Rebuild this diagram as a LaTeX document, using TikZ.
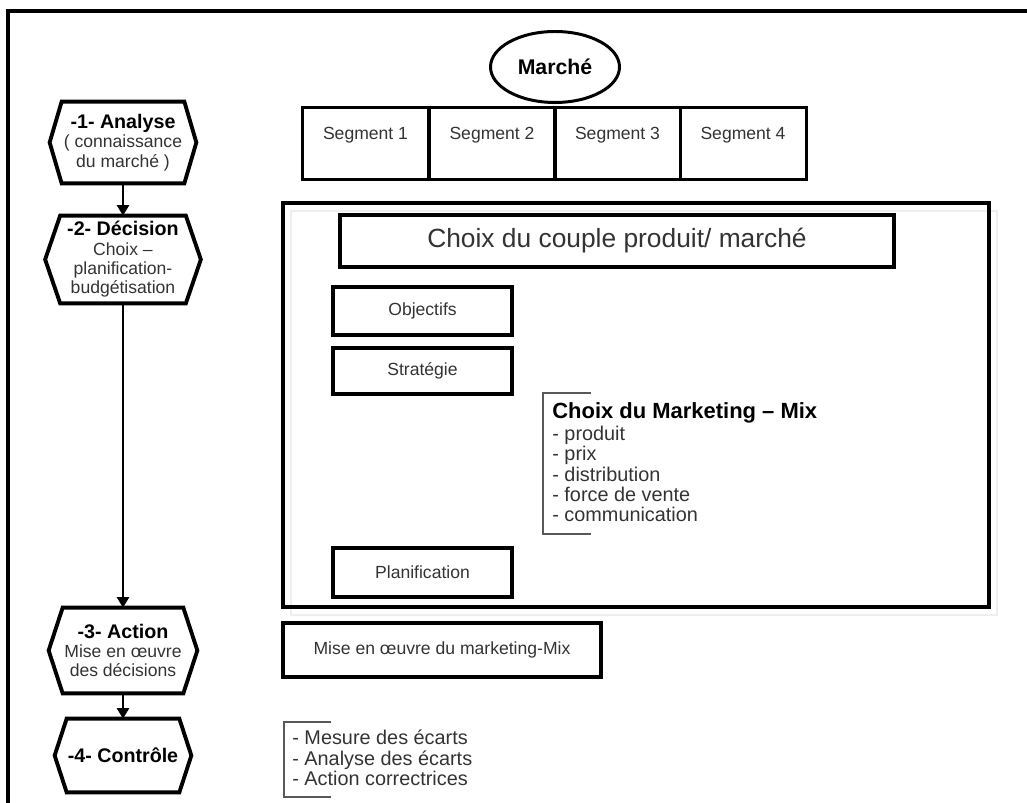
\documentclass[tikz,border=0pt]{standalone}
\usepackage{fontspec}
\setmainfont{Liberation Sans}
\usepackage{tikz}
\usetikzlibrary{shapes.geometric,arrows.meta}

\newcommand{\upx}{0.02cm}

\begin{document}
\begin{tikzpicture}[x=0.02cm,y=-0.02cm,
  txt/.style={text=black!80,font=\fontsize{10}{11}\selectfont},
  boite/.style={draw,line width=2.2pt,inner sep=0pt,txt},
  segbox/.style={draw,line width=1.7pt,minimum width=126*\upx,inner sep=0pt,
    text height=18.4pt,text depth=23pt,txt},
  hexbox/.style={minimum width=#1,align=center,inner sep=0pt,txt},
  hexline/.style={line width=2.2pt,line join=miter},
  fleche/.style={line width=1pt,-{Triangle[width=7pt,length=6pt]}},
  crochet/.style={black!65,line width=0.8pt},
  liste/.style={anchor=north west,inner sep=0pt,align=left,text=black!80,
    font=\fontsize{11.3}{11.6}\selectfont}]

\useasboundingbox (0,0) rectangle (1027,803);

% frame
\draw[line width=2.2pt] (8,803) -- (8,11) -- (1027,11);

% market and segments
\node[ellipse,draw,line width=1.7pt,minimum width=129*\upx,minimum height=71*\upx,
  font=\fontsize{12.1}{13}\selectfont\bfseries] (marche) at (555,67) {Marché};
\node[segbox] (seg1) at (365.5,143.5) {Segment 1};
\node[segbox] (seg2) at (492,143.5) {Segment 2};
\node[segbox] (seg3) at (617.5,143.5) {Segment 3};
\node[segbox] (seg4) at (743,143.5) {Segment 4};

% steps on the left
\node[hexbox=146*\upx,minimum height=81*\upx] (h1) at (123,142.5)
  {{\fontsize{11.2}{12}\selectfont\bfseries\color{black}-1- Analyse}\\( connaissance\\du marché )};
\node[hexbox=155*\upx,minimum height=87*\upx] (h2) at (123,259.5)
  {{\fontsize{11.2}{12}\selectfont\bfseries\color{black}-2- Décision}\\Choix –\\planification-\\budgétisation};
\node[hexbox=148*\upx,minimum height=85*\upx] (h3) at (123,650.5)
  {{\fontsize{11.2}{12}\selectfont\bfseries\color{black}-3- Action}\\Mise en œuvre\\des décisions};
\node[hexbox=136*\upx,minimum height=73*\upx] (h4) at (123,755.5)
  {{\fontsize{11.2}{12}\selectfont\bfseries\color{black}-4- Contrôle}};

\draw[hexline] (h1.west) -- ([xshift=12*\upx]h1.north west) -- ([xshift=-12*\upx]h1.north east)
  -- (h1.east) -- ([xshift=-12*\upx]h1.south east) -- ([xshift=12*\upx]h1.south west) -- cycle;
\draw[hexline] (h2.west) -- ([xshift=15*\upx]h2.north west) -- ([xshift=-15*\upx]h2.north east)
  -- (h2.east) -- ([xshift=-15*\upx]h2.south east) -- ([xshift=15*\upx]h2.south west) -- cycle;
\draw[hexline] (h3.west) -- ([xshift=14*\upx]h3.north west) -- ([xshift=-14*\upx]h3.north east)
  -- (h3.east) -- ([xshift=-14*\upx]h3.south east) -- ([xshift=14*\upx]h3.south west) -- cycle;
\draw[hexline] (h4.west) -- ([xshift=12*\upx]h4.north west) -- ([xshift=-12*\upx]h4.north east)
  -- (h4.east) -- ([xshift=-12*\upx]h4.south east) -- ([xshift=12*\upx]h4.south west) -- cycle;

\draw[fleche] (h1) -- (h2);
\draw[fleche] (h2) -- (h3);
\draw[fleche] (h3) -- (h4);

% decision box
\draw[blue!15!gray!12,line width=1.2pt] (291,211) rectangle (997,615); % shadow
\draw[line width=2.2pt] (283,203) rectangle (989,607);

\node[boite,minimum width=554*\upx,minimum height=52*\upx,font=\fontsize{15}{16}\selectfont]
  (couple) at (617,241) {Choix du couple produit/ marché};
\node[boite,minimum width=179*\upx,minimum height=48*\upx] (obj) at (422.5,311) {Objectifs};
\node[boite,minimum width=179*\upx,minimum height=46*\upx] (strat) at (422.5,371) {Stratégie};
\node[boite,minimum width=179*\upx,minimum height=49*\upx] (planif) at (422.5,572.5) {Planification};

\node[liste] (mix) at (552,402)
  {{\fontsize{12.5}{13}\selectfont\bfseries\color{black}Choix du Marketing – Mix}\\[1pt]
   - produit\\- prix\\- distribution\\- force de vente\\- communication};
\draw[crochet] (591,393) -- (543,393) -- (543,534) -- (591,534);

% action and control
\node[boite,minimum width=318*\upx,minimum height=54*\upx] (mise) at (442,650)
  {Mise en œuvre du marketing-Mix};

\node[liste] (ecarts) at (292,730)
  {- Mesure des écarts\\- Analyse des écarts\\- Action correctrices};
\draw[crochet] (331,722) -- (284,722) -- (284,797) -- (331,797);

\end{tikzpicture}
\end{document}
